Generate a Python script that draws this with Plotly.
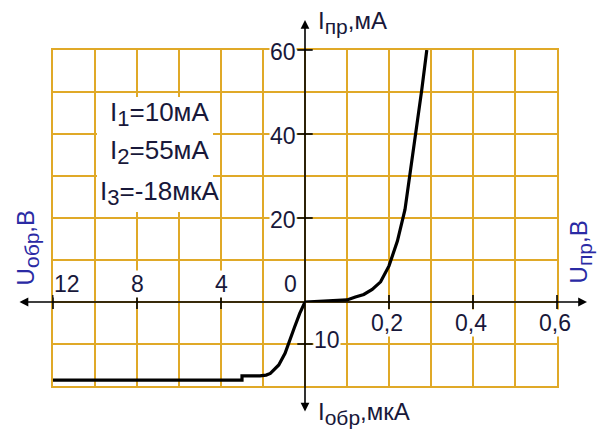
import plotly.graph_objects as go

# Forward branch: U_пр (V) vs I_пр (mA)
u_fwd = [0, 0.05, 0.10, 0.12, 0.14, 0.16, 0.18, 0.20, 0.22, 0.238, 0.264, 0.278, 0.29]
i_fwd = [0, 0.2, 0.5, 1.2, 1.8, 3.0, 4.8, 8.6, 14.5, 22.0, 40.0, 50.5, 60.0]

# Reverse branch: U_обр (V) vs I_обр (µA)
u_rev = [0, 0.25, 0.5, 0.7, 0.95, 1.25, 1.65, 1.85, 2.15, 3.0, 3.0, 12]
i_rev = [0, 2.7, 6.0, 9.0, 12.2, 15.0, 17.0, 17.4, 17.6, 17.6, 18.6, 18.6]

# Axis tick values and labels
fwd_u_ticks = [0.2, 0.4, 0.6]
fwd_u_text = ["0,2", "0,4", "0,6"]
fwd_i_ticks = [20, 40, 60]
rev_u_ticks = [12, 8, 4, 0]
rev_i_ticks = [10]

# Operating-point notes
notes = [("1", "10мА"), ("2", "55мА"), ("3", "-18мкА")]

GOLD = "#E0A928"
INK = "#18183a"
BLUE = "#2a2aa4"
FONT = "Liberation Sans, Arial, sans-serif"

fig = go.Figure()

# background grid subplot (12 x 8 divisions)
fig.add_trace(go.Scatter(x=[], y=[], xaxis="x", yaxis="y", showlegend=False))

# characteristic curves
fig.add_trace(go.Scatter(x=u_fwd, y=i_fwd, xaxis="x2", yaxis="y2", mode="lines",
                         line=dict(color="black", width=3.2), showlegend=False, hoverinfo="skip"))
fig.add_trace(go.Scatter(x=u_rev, y=i_rev, xaxis="x3", yaxis="y3", mode="lines",
                         line=dict(color="black", width=3.2), showlegend=False, hoverinfo="skip"))

# crossing tick marks on the black axes
tick_ns = dict(symbol="line-ns", size=10, line=dict(width=1.6, color="black"))
tick_ew = dict(symbol="line-ew", size=11, line=dict(width=1.6, color="black"))
fig.add_trace(go.Scatter(x=fwd_u_ticks, y=[0] * len(fwd_u_ticks), xaxis="x2", yaxis="y2",
                         mode="markers", marker=tick_ns, cliponaxis=False, showlegend=False, hoverinfo="skip"))
fig.add_trace(go.Scatter(x=[0] * len(fwd_i_ticks), y=fwd_i_ticks, xaxis="x2", yaxis="y2",
                         mode="markers", marker=tick_ew, cliponaxis=False, showlegend=False, hoverinfo="skip"))
rev_marks = [v for v in rev_u_ticks if v != 0]
fig.add_trace(go.Scatter(x=rev_marks, y=[0] * len(rev_marks), xaxis="x3", yaxis="y3",
                         mode="markers", marker=tick_ns, cliponaxis=False, showlegend=False, hoverinfo="skip"))
fig.add_trace(go.Scatter(x=[0] * len(rev_i_ticks), y=rev_i_ticks, xaxis="x3", yaxis="y3",
                         mode="markers", marker=tick_ew, cliponaxis=False, showlegend=False, hoverinfo="skip"))

ann = []
num_font = dict(family=FONT, size=23, color=INK)

# tick labels with white backing so grid lines break around them
for v, t in zip(fwd_u_ticks, fwd_u_text):
    ann.append(dict(x=v, y=0, xref="x2", yref="y2", text=t, showarrow=False, font=num_font,
                    xanchor="center", yanchor="top", yshift=-7, xshift=-2, bgcolor="white", borderpad=0))
for v in fwd_i_ticks:
    ann.append(dict(x=0, y=v, xref="x2", yref="y2", text=str(v), showarrow=False, font=num_font,
                    xanchor="right", yanchor="middle", xshift=-8, yshift=-2, bgcolor="white", borderpad=0))
for k, v in enumerate(rev_u_ticks):
    if k == 0:
        anchor, dx = "left", 0
    elif v == 0:
        anchor, dx = "right", -7
    else:
        anchor, dx = "center", 0
    ann.append(dict(x=v, y=0, xref="x3", yref="y3", text=str(v), showarrow=False, font=num_font,
                    xanchor=anchor, xshift=dx, yanchor="bottom", yshift=4, bgcolor="white", borderpad=0))
for v in rev_i_ticks:
    ann.append(dict(x=0, y=v, xref="x3", yref="y3", text=str(v), showarrow=False, font=num_font,
                    xanchor="left", yanchor="middle", xshift=8, yshift=4, bgcolor="white", borderpad=0))

# axis arrows
ann.append(dict(x=1.0595, y=0.25, xref="paper", yref="paper", ax=-569, ay=0, axref="pixel", ayref="pixel",
                text="", showarrow=True, arrowhead=2, arrowsize=1.1, arrowwidth=1.6, arrowcolor="black",
                arrowside="end+start", standoff=0, startstandoff=0))
ann.append(dict(x=0.5, y=1.0893, xref="paper", yref="paper", ax=0, ay=393, axref="pixel", ayref="pixel",
                text="", showarrow=True, arrowhead=2, arrowsize=1.1, arrowwidth=1.6, arrowcolor="black",
                arrowside="end+start", standoff=0, startstandoff=0))

# axis titles
sub = '<sub><span style="font-size:21px">{}</span></sub>'
title_font = dict(family=FONT, size=24, color=INK)
ann.append(dict(x=0, y=1.083, xref="x2", yref="paper", text="I" + sub.format("пр") + ",мА",
                showarrow=False, font=title_font, xanchor="left", yanchor="middle", xshift=11))
ann.append(dict(x=0, y=-0.083, xref="x2", yref="paper", text="I" + sub.format("обр") + ",мкА",
                showarrow=False, font=title_font, xanchor="left", yanchor="middle", xshift=11))
ann.append(dict(x=-0.086, y=0.41, xref="paper", yref="paper", text="U" + sub.format("обр") + ",В",
                showarrow=False, font=dict(family=FONT, size=24, color=BLUE), textangle=-90))
ann.append(dict(x=1.082, y=0.40, xref="paper", yref="paper", text="U" + sub.format("пр") + ",В",
                showarrow=False, font=dict(family=FONT, size=24, color=BLUE), textangle=-90))

# operating-point notes on a white panel
note_font = dict(family=FONT, size=26, color=INK)
note_y = [0.81, 0.695, 0.575]
for (idx, val), yy in zip(notes, note_y):
    ann.append(dict(x=0.2105, y=yy, xref="paper", yref="paper",
                    text="I" + '<sub><span style="font-size:22px">' + idx + "</span></sub>=" + val,
                    showarrow=False, font=note_font, xanchor="center", yanchor="middle"))

shapes = [dict(type="rect", xref="paper", yref="paper", x0=(97 - 53) / 504, x1=(213 - 53) / 504,
               y0=(386 - 212) / 336, y1=(386 - 97) / 336, fillcolor="white", line=dict(width=0),
               layer="above")]

hidden = dict(showgrid=False, zeroline=False, showticklabels=False, ticks="", showline=False)

fig.update_layout(
    width=597, height=439,
    margin=dict(l=53, r=40, t=50, b=53),
    paper_bgcolor="white", plot_bgcolor="rgba(0,0,0,0)",
    showlegend=False,
    xaxis=dict(domain=[0, 1], range=[0, 12], dtick=1, tick0=0, showgrid=True, gridcolor=GOLD, gridwidth=2,
               zeroline=False, showticklabels=False, ticks="", showline=True, mirror=True,
               linecolor=GOLD, linewidth=2, anchor="y"),
    yaxis=dict(domain=[0, 1], range=[-2, 6], dtick=1, tick0=0, showgrid=True, gridcolor=GOLD, gridwidth=2,
               zeroline=False, showticklabels=False, ticks="", showline=True, mirror=True,
               linecolor=GOLD, linewidth=2, anchor="x"),
    xaxis2=dict(domain=[0.5, 1], range=[0, 0.6], anchor="y2", **hidden),
    yaxis2=dict(domain=[0.25, 1], range=[0, 60], anchor="x2", **hidden),
    xaxis3=dict(domain=[0, 0.5], range=[12, 0], anchor="y3", **hidden),
    yaxis3=dict(domain=[0, 0.25], range=[20, 0], anchor="x3", **hidden),
    annotations=ann,
    shapes=shapes,
)

fig.write_html("out.html")
